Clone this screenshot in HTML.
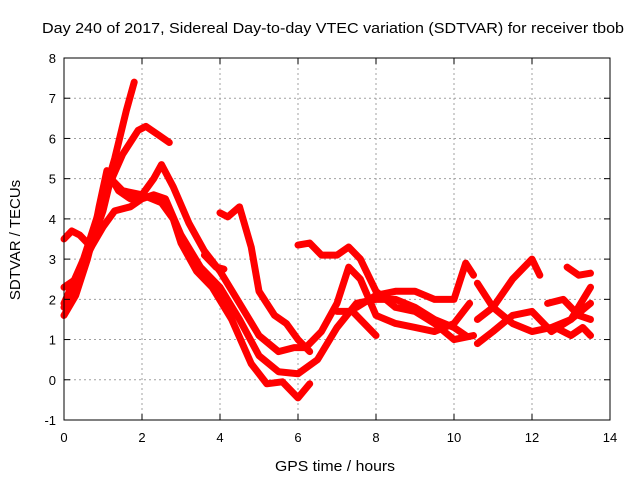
<!DOCTYPE html>
<html><head><meta charset="utf-8"><style>
html,body{margin:0;padding:0;background:#fff}
svg{display:block;font-family:"Liberation Sans",sans-serif}
</style></head><body>
<svg id="chart" width="640" height="480" xmlns="http://www.w3.org/2000/svg">
<text x="42" y="33" font-size="15" textLength="582" lengthAdjust="spacingAndGlyphs">Day 240 of 2017, Sidereal Day-to-day VTEC variation (SDTVAR) for receiver tbob</text>
<text x="275" y="471" font-size="15" textLength="120" lengthAdjust="spacingAndGlyphs">GPS time / hours</text>
<text transform="translate(20,240) rotate(-90)" font-size="15" text-anchor="middle">SDTVAR / TECUs</text>
<g id="grid"></g><g id="series"></g><g id="axes"></g>
</svg>
<script>
const xTicks=[0,2,4,6,8,10,12,14];
const yTicks=[-1,0,1,2,3,4,5,6,7,8];
const s1=[[0,1.6],[0.3,2.1],[0.6,3.0],[1,4.5],[1.3,5.5],[1.6,6.7],[1.8,7.4]];
const s2=[[0,1.9],[0.5,3.0],[1,4.5],[1.5,5.6],[1.9,6.2],[2.1,6.3],[2.4,6.1],[2.7,5.9]];
const s3=[[0,3.5],[0.2,3.7],[0.4,3.6],[0.7,3.3],[0.9,4.3],[1.1,5.2],[1.4,4.7],[1.7,4.5],[2.0,4.6],[2.3,5.0],[2.5,5.35],[2.8,4.8],[3.2,3.9],[3.6,3.2],[4.0,2.7],[4.5,1.9],[5.0,1.1],[5.5,0.7],[5.9,0.8],[6.2,0.8],[6.6,1.2],[7.0,1.9],[7.3,2.8],[7.6,2.5],[8,1.6],[8.5,1.4],[9,1.3],[9.5,1.2],[10,1.4],[10.4,1.9]];
const s4=[[0,2.3],[0.3,2.5],[0.7,3.3],[1,3.8],[1.3,4.2],[1.7,4.3],[2,4.5],[2.3,4.6],[2.6,4.5],[3.0,3.6],[3.5,2.8],[4.0,2.3],[4.5,1.5],[5.0,0.6],[5.5,0.2],[6.0,0.15],[6.5,0.5],[7,1.3],[7.5,1.9],[8,2.0],[8.5,2.0],[9,1.8],[9.5,1.5],[10,1.3],[10.3,1.1]];
const s5=[[0,1.8],[0.5,2.8],[1,4.2],[1.2,5.0],[1.3,4.9],[1.5,4.7],[2.0,4.6],[2.5,4.4],[2.8,4.0],[3.0,3.4],[3.4,2.7],[3.8,2.3],[4.3,1.5],[4.8,0.4],[5.2,-0.1],[5.6,-0.05],[6,-0.45],[6.3,-0.1]];
const s6=[[3.6,3.1],[3.9,2.8],[4.1,2.75]];
const s7=[[4.0,4.15],[4.2,4.05],[4.5,4.3],[4.8,3.3],[5.0,2.2],[5.4,1.6],[5.7,1.4],[6,1.0],[6.3,0.7]];
const s8=[[6,3.35],[6.3,3.4],[6.6,3.1],[7.0,3.1],[7.3,3.3],[7.6,3.0],[8.0,2.2],[8.5,1.8],[9.0,1.7],[9.5,1.4],[10,1.0],[10.5,1.1]];
const s9=[[7.5,1.8],[8,2.1],[8.5,2.2],[9,2.2],[9.5,2.0],[10,2.0],[10.3,2.9],[10.5,2.6]];
const s10=[[7.0,1.7],[7.4,1.7],[8.0,1.1]];
const s11=[[10.6,2.4],[11,1.8],[11.5,2.5],[12,3.0],[12.2,2.6]];
const s12=[[10.6,1.5],[11,1.8],[11.5,1.4],[12,1.2],[12.5,1.3],[13,1.5],[13.5,1.9]];
const s13=[[10.6,0.9],[11,1.2],[11.5,1.6],[12,1.7],[12.5,1.2],[13,1.5],[13.5,2.3]];
const s14=[[12.4,1.9],[12.8,2.0],[13.2,1.6],[13.5,1.5]];
const s15=[[12.9,2.8],[13.2,2.6],[13.5,2.65]];
const s16=[[12.6,1.3],[13,1.1],[13.3,1.3],[13.5,1.1]];
const allSeries=[s1,s2,s3,s4,s5,s6,s7,s8,s9,s10,s11,s12,s13,s14,s15,s16];
const L=64,R=610,T=58,B=420;
const xs=v=>L+(v-0)/14*(R-L);
const ys=v=>B-(v+1)/9*(B-T);
const NS="http://www.w3.org/2000/svg";
function mk(tag,attrs,parent){const e=document.createElementNS(NS,tag);for(const k in attrs)e.setAttribute(k,attrs[k]);parent.appendChild(e);return e;}
const grid=document.getElementById('grid'),axes=document.getElementById('axes'),ser=document.getElementById('series');
xTicks.forEach(t=>{const x=xs(t);
 if(t>0&&t<14){const g=mk('line',{x1:x,x2:x,y1:T,y2:B,stroke:'#a0a0a0','stroke-dasharray':'2,3'},grid);
 
 }
 mk('line',{x1:x,x2:x,y1:B,y2:B-6,stroke:'#000'},axes);
 mk('line',{x1:x,x2:x,y1:T,y2:T+6,stroke:'#000'},axes);
 const tx=mk('text',{x:x,y:B+22,'font-size':13,'text-anchor':'middle'},axes);tx.textContent=t;
 
 
});
yTicks.forEach(t=>{const y=ys(t);
 if(t>-1&&t<8){const g=mk('line',{x1:L,x2:R,y1:y,y2:y,stroke:'#a0a0a0','stroke-dasharray':'2,3'},grid);
 
 }
 mk('line',{x1:L,x2:L+6,y1:y,y2:y,stroke:'#000'},axes);
 mk('line',{x1:R,x2:R-6,y1:y,y2:y,stroke:'#000'},axes);
 const tx=mk('text',{x:L-8,y:y+5,'font-size':13,'text-anchor':'end'},axes);tx.textContent=t;
 
 
});
const fr=mk('rect',{x:L,y:T,width:R-L,height:B-T,fill:'none',stroke:'#000'},axes);


allSeries.forEach((s,i)=>{
 const p=mk('polyline',{points:s.map(d=>xs(d[0])+','+ys(d[1])).join(' '),fill:'none',stroke:'#ff0000','stroke-width':7,'stroke-linejoin':'round','stroke-linecap':'round'},ser);
 
 
});
</script>
</body></html>
